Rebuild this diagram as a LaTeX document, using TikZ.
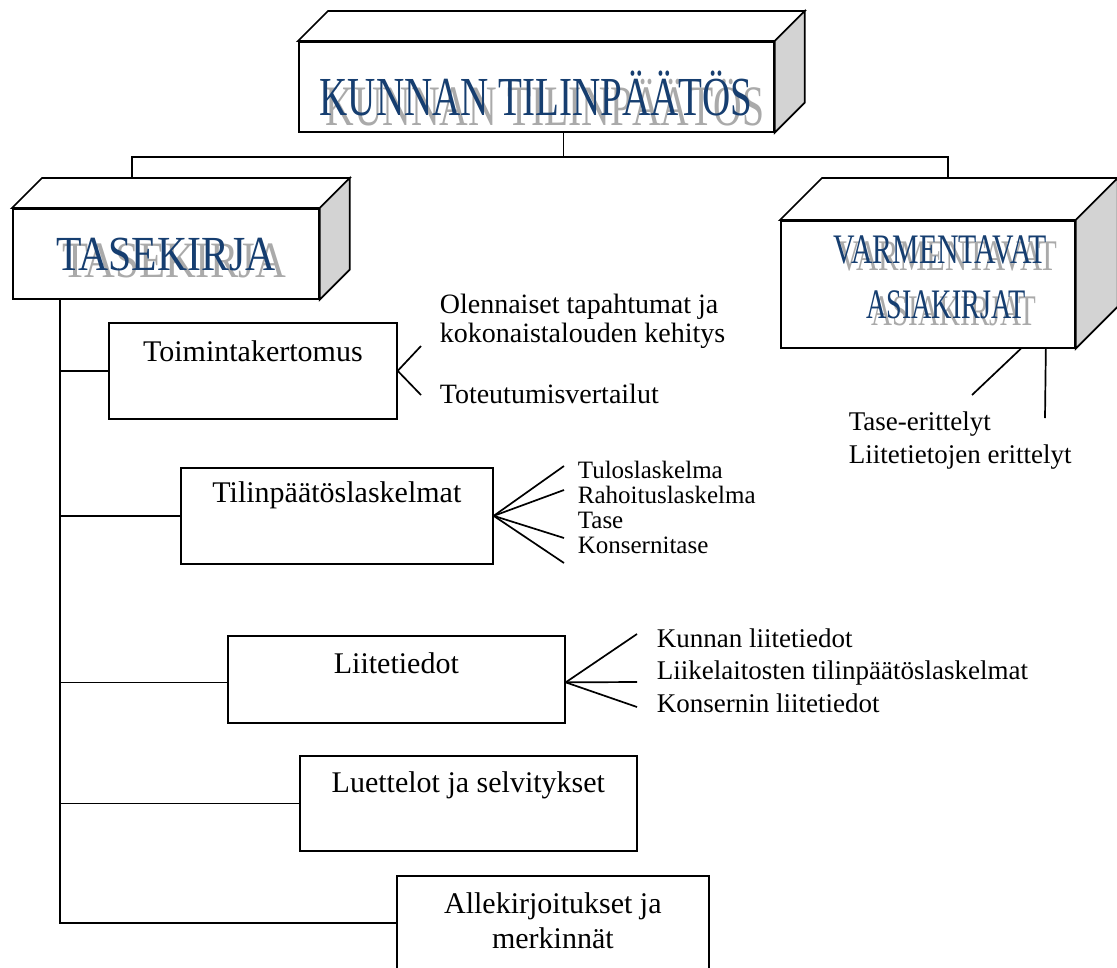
\documentclass[tikz,border=0pt]{standalone}
\usepackage{fontspec}
\setmainfont{Liberation Serif}
\definecolor{artblue}{RGB}{22,62,112}
\definecolor{artshade}{RGB}{170,170,170}
\definecolor{sidegray}{RGB}{211,211,211}

\begin{document}
\begin{tikzpicture}[
    x=1pt, y=-1pt,
    line width=1.7pt,
    front/.style={rectangle, draw, fill=white, anchor=north west, inner sep=0pt},
    docbox/.style={rectangle, draw, anchor=north west, inner sep=0pt, text height=38pt, font=\fontsize{30}{35}\selectfont},
    art/.style={inner sep=0pt, anchor=base, text=artblue},
    artshadow/.style={art, text=artshade},
    note/.style={inner sep=0pt, anchor=base west, font=\fontsize{27}{33}\selectfont},
    smallnote/.style={note, font=\fontsize{25}{25}\selectfont}
]
\useasboundingbox (0,0) rectangle (1117,967);

% === 3D header boxes (front faces) ===
\node[front, minimum width=475pt, minimum height=90pt] (title) at (298,41) {};
\node[front, minimum width=306pt, minimum height=90pt] (tase) at (12,208) {};
\node[front, minimum width=294pt, minimum height=127pt] (varm) at (780,220) {};

% top and side faces
\foreach \b/\d in {title/30, tase/30, varm/42} {
  \draw[fill=white] (\b.north west) -- ++(\d,-\d) -- ([shift={(\d,-\d)}]\b.north east) -- (\b.north east) -- cycle;
  \draw[fill=sidegray] (\b.north east) -- ++(\d,-\d) -- ([shift={(\d,-\d)}]\b.south east) -- (\b.south east) -- cycle;
}

% === Word-art titles (shadow first) ===
\node[artshadow, font=\fontsize{55}{55}\selectfont] (titleshd) at (545,125) {\scalebox{0.72}[1.04]{KUNNAN TILINPÄÄTÖS}};
\node[art, font=\fontsize{55}{55}\selectfont] (titletxt) at (536,115) {\scalebox{0.71}[1]{KUNNAN TILINPÄÄTÖS}};
\node[artshadow, font=\fontsize{49}{49}\selectfont] (taseshd) at (174,277) {\scalebox{0.87}[1.04]{TASEKIRJA}};
\node[art, font=\fontsize{49}{49}\selectfont] (tasetxt) at (166,270) {\scalebox{0.85}[1]{TASEKIRJA}};
\node[artshadow, font=\fontsize{42}{42}\selectfont] (varmshd1) at (948,270) {\scalebox{0.73}[1.04]{VARMENTAVAT}};
\node[art, font=\fontsize{42}{42}\selectfont] (varmtxt1) at (940,263) {\scalebox{0.71}[1]{VARMENTAVAT}};
\node[artshadow, font=\fontsize{42}{42}\selectfont] (varmshd2) at (954,325) {\scalebox{0.69}[1.04]{ASIAKIRJAT}};
\node[art, font=\fontsize{42}{42}\selectfont] (varmtxt2) at (946,318) {\scalebox{0.67}[1]{ASIAKIRJAT}};

% === Top-level connector ===
\coordinate (tasetop) at (132,178);
\coordinate (varmtop) at (948,178);
\draw ([xshift=27pt]title.south) -- ++(0,24) coordinate (split);
\draw (tasetop) |- (split) -| (varmtop);

% === Parts of the balance book ===
\node[docbox, minimum width=288pt, text height=39pt, text depth=57pt] (toim) at (108,322) {Toimintakertomus};
\node[docbox, minimum width=312pt, text height=35pt, text depth=61pt] (tilin) at (180,467) {Tilinpäätöslaskelmat};
\node[docbox, minimum width=337pt, text depth=49pt] (liite) at (227,635) {Liitetiedot};
\node[docbox, minimum width=337pt, text height=37pt, text depth=58pt] (luett) at (299,755) {Luettelot ja selvitykset};
\node[docbox, minimum width=312pt, text depth=56pt] (allek) at (396,875) {\begin{tabular}[t]{@{}c@{}}Allekirjoitukset ja\\merkinnät\end{tabular}};

% spine and branches
\coordinate (spine) at (60,298);
\coordinate (liitejoin) at ([yshift=-3pt]liite.west);
\coordinate (liitefan) at ([yshift=-3pt]liite.east);
\draw (spine) |- (allek.west);
\foreach \b in {toim, tilin, liitejoin, luett}
  \draw (spine |- \b.west) -- (\b.west);

% === Toimintakertomus details ===
\node[note, font=\fontsize{28}{29}\selectfont] (olen) at (439,313) {Olennaiset tapahtumat ja};
\node[note, font=\fontsize{28}{29}\selectfont] (koko) at ([yshift=-29pt]olen.base west) {kokonaistalouden kehitys};
\node[note, font=\fontsize{28}{29}\selectfont] (toteu) at (439,403) {Toteutumisvertailut};
\coordinate (toimA) at (421,346);
\coordinate (toimB) at (421,395);
\draw (toimA) -- (toim.east) -- (toimB);

% === Tilinpäätöslaskelmat details ===
\node[smallnote] (tulos) at (577,478) {Tuloslaskelma};
\node[smallnote] (rahoi) at ([yshift=-25pt]tulos.base west) {Rahoituslaskelma};
\node[smallnote] (tasel) at ([yshift=-25pt]rahoi.base west) {Tase};
\node[smallnote] (konse) at ([yshift=-25pt]tasel.base west) {Konsernitase};
\foreach \i/\y in {1/466, 2/490, 3/538, 4/563} {
  \coordinate (tilinend\i) at (564,\y);
  \draw (tilin.east) -- (tilinend\i);
}

% === Liitetiedot details ===
\node[note] (kunli) at (656,647) {Kunnan liitetiedot};
\node[note] (liike) at ([yshift=-32pt]kunli.base west) {Liikelaitosten tilinpäätöslaskelmat};
\node[note] (konli) at ([yshift=-33pt]liike.base west) {Konsernin liitetiedot};
\foreach \i/\y in {1/634, 2/682, 3/707} {
  \coordinate (liiteend\i) at (637,\y);
  \draw (liitefan) -- (liiteend\i);
}

% === Varmentavat asiakirjat details ===
\node[note] (taseer) at (848,430) {Tase-erittelyt};
\node[note] (liier) at ([yshift=-33pt]taseer.base west) {Liitetietojen erittelyt};
\coordinate (varmA) at (972,395);
\coordinate (varmB) at (1045,418);
\draw ([xshift=93pt]varm.south) -- (varmA);
\draw ([xshift=118pt]varm.south) -- (varmB);

\end{tikzpicture}
\end{document}
